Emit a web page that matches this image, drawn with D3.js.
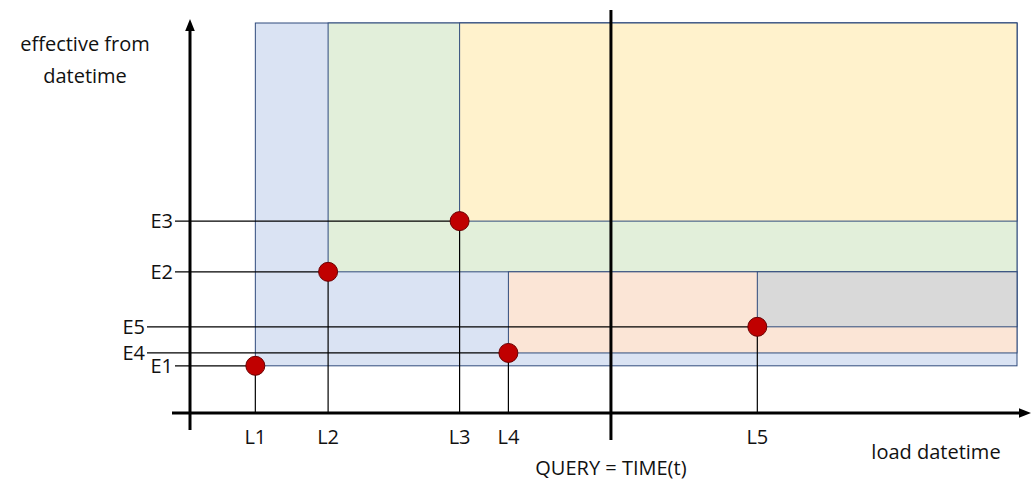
<!DOCTYPE html><html><head><meta charset="utf-8">
<script src="https://d3js.org/d3.v7.min.js"></script>
<style>body{margin:0;background:#fff}text{font-family:"Open Sans",sans-serif;font-size:20px;fill:#111}</style></head><body>
<svg width="1035" height="500"></svg>
<script>
const pointLabels=["L1","L2","L3","L4","L5"];
const effLabels=["E1","E2","E3","E4","E5"];
const loadValues=[7.9,16.7,32.6,38.5,68.6];
const effValues=[12.1,36.2,49.2,15.4,22.1];
const queryValue=50.9;
const regionFrom=[7.9,16.7,32.6,38.5,68.6];
const regionEffFrom=[12.1,36.2,49.2,15.4,22.1];
const regionEffTo=[100,100,100,36.2,36.2];
const regionFill=["#dae3f3","#e2efda","#fff2cc","#fbe5d6","#d9d9d9"];
const labelOffset=[0,0,0,1,1];

const svg=d3.select("svg");
const x=d3.scaleLinear().domain([0,100]).range([190,1017]);
const y=d3.scaleLinear().domain([0,100]).range([413,23]);
const border="#2f4b7c";
regionFrom.forEach((f,i)=>{
  svg.append("rect").attr("x",x(f)).attr("y",y(regionEffTo[i]))
   .attr("width",x(100)-x(f)).attr("height",y(regionEffFrom[i])-y(regionEffTo[i]))
   .attr("fill",regionFill[i]).attr("stroke",border).attr("stroke-width",1);
});
loadValues.forEach((l,i)=>{
  const x0=labelOffset[i]?147:175;
  svg.append("line").attr("x1",x0).attr("x2",x(l)).attr("y1",y(effValues[i])).attr("y2",y(effValues[i])).attr("stroke","#000").attr("stroke-width",1.2);
  svg.append("line").attr("x1",x(l)).attr("x2",x(l)).attr("y1",y(effValues[i])).attr("y2",y(0)).attr("stroke","#000").attr("stroke-width",1.2);
});
svg.append("defs").append("marker").attr("id","ar").attr("viewBox","0 0 10 10").attr("refX",5).attr("refY",5)
 .attr("markerWidth",4).attr("markerHeight",4).attr("orient","auto").append("path").attr("d","M0,1L10,5L0,9z").attr("fill","#000");
svg.append("line").attr("x1",190).attr("x2",190).attr("y1",430).attr("y2",y(100)+2).attr("stroke","#000").attr("stroke-width",3).attr("marker-end","url(#ar)");
svg.append("line").attr("x1",172).attr("x2",1025).attr("y1",y(0)).attr("y2",y(0)).attr("stroke","#000").attr("stroke-width",3).attr("marker-end","url(#ar)");
svg.append("line").attr("x1",x(queryValue)).attr("x2",x(queryValue)).attr("y1",10).attr("y2",440).attr("stroke","#000").attr("stroke-width",3);
svg.selectAll("circle.p").data(loadValues).join("circle").attr("cx",d=>x(d)).attr("cy",(d,i)=>y(effValues[i])).attr("r",9.5)
 .attr("fill","#c00000").attr("stroke","#6b0000").attr("stroke-width",1);
pointLabels.forEach((t,i)=>svg.append("text").attr("x",x(loadValues[i])).attr("y",444).attr("text-anchor","middle").text(t));
effLabels.forEach((t,i)=>svg.append("text").attr("x",labelOffset[i]?145:173).attr("y",y(effValues[i])+7).attr("text-anchor","end").text(t));
svg.append("text").attr("x",85).attr("y",51).attr("text-anchor","middle").text("effective from");
svg.append("text").attr("x",85).attr("y",83).attr("text-anchor","middle").text("datetime");
svg.append("text").attr("x",936).attr("y",459).attr("text-anchor","middle").text("load datetime");
svg.append("text").attr("x",x(queryValue)).attr("y",475).attr("text-anchor","middle").text("QUERY = TIME(t)");
</script></body></html>
